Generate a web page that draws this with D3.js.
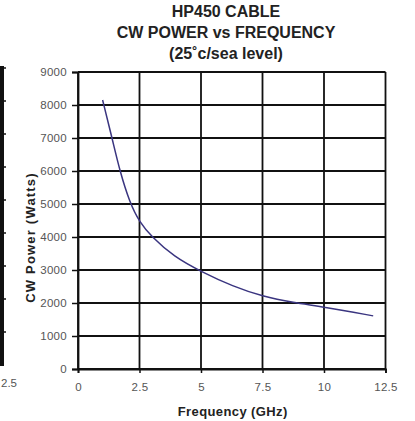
<!DOCTYPE html>
<html>
<head>
<meta charset="utf-8">
<script src="https://cdn.jsdelivr.net/npm/d3@7"></script>
<style>
  body { margin: 0; background: #fff; }
  text { font-family: "Liberation Sans", Arial, sans-serif; }
</style>
</head>
<body>
<div id="container"></div>
<script>
const titleLines = ["HP450 CABLE", "CW POWER vs FREQUENCY", "(25\u02DAc/sea level)"];
const freqGHz = [1, 1.4, 1.7, 2.1, 2.5, 3, 3.9, 5, 6.3, 7.5, 8.75, 10, 12];
const powerW = [8150, 6950, 6000, 5050, 4450, 4000, 3400, 2950, 2500, 2200, 2010, 1880, 1610];
const xTicks = [0, 2.5, 5, 7.5, 10, 12.5];
const yTicks = [0, 1000, 2000, 3000, 4000, 5000, 6000, 7000, 8000, 9000];
const xTitle = "Frequency (GHz)";
const yTitle = "CW Power (Watts)";
const edgeLabel = "2.5";

const width = 415, height = 421;
const margin = { top: 72, right: 30, bottom: 52, left: 78 };

let svg = d3.select("#container").append("svg")
    .attr("width", width)
    .attr("height", height);

let x = d3.scaleLinear()
    .domain([0, 12.5])
    .range([margin.left, width - margin.right + 0.5]);

let y = d3.scaleLinear()
    .domain([0, 9000])
    .range([height - margin.bottom, margin.top]);

// title
svg.append("g").selectAll("text")
    .data(titleLines)
    .enter()
    .append("text")
    .attr("x", 226)
    .attr("y", (d, i) => 17 + i * 21)
    .attr("text-anchor", "middle")
    .attr("font-size", 16)
    .attr("font-weight", "bold")
    .attr("fill", "#222")
    .text(d => d);

// grid
svg.append("g").selectAll("line.h")
    .data(yTicks)
    .enter()
    .append("line")
    .attr("x1", x(0)).attr("x2", x(12.5))
    .attr("y1", d => y(d)).attr("y2", d => y(d))
    .attr("stroke", "#111")
    .attr("stroke-width", 1.8);

svg.append("g").selectAll("line.v")
    .data(xTicks)
    .enter()
    .append("line")
    .attr("x1", d => x(d)).attr("x2", d => x(d))
    .attr("y1", y(0)).attr("y2", y(9000))
    .attr("stroke", "#111")
    .attr("stroke-width", 1.8);

// axes
let yAxis = svg.append("g")
    .attr("transform", `translate(${x(0)},0)`)
    .call(d3.axisLeft(y).tickValues(yTicks).tickSize(6).tickPadding(5).tickFormat(d3.format("d")));
let xAxis = svg.append("g")
    .attr("transform", `translate(0,${y(0)})`)
    .call(d3.axisBottom(x).tickValues(xTicks).tickSize(4).tickPadding(10).tickFormat(d => d));

[yAxis, xAxis].forEach(a => {
    a.select(".domain").attr("stroke", "#111").attr("stroke-width", 1.8);
    a.selectAll(".tick line").attr("stroke", "#111").attr("stroke-width", 1.5);
    a.selectAll(".tick text")
        .attr("fill", "#555")
        .style("font-family", "'Liberation Sans', Arial, sans-serif")
        .style("font-size", "11.5px")
        .style("letter-spacing", "0.3px");
});

// curve
let line = d3.line()
    .x((d, i) => x(freqGHz[i]))
    .y(d => y(d))
    .curve(d3.curveBasis);

svg.append("path")
    .datum(powerW)
    .attr("fill", "none")
    .attr("stroke", "#3a3580")
    .attr("stroke-width", 1.5)
    .attr("d", line);

// axis titles
svg.append("text")
    .attr("x", (x(0) + x(12.5)) / 2 + 1)
    .attr("y", 416)
    .attr("text-anchor", "middle")
    .attr("font-size", 13)
    .attr("font-weight", "bold")
    .attr("letter-spacing", 0.4)
    .attr("fill", "#222")
    .text(xTitle);

svg.append("text")
    .attr("transform", `translate(35,${(y(0) + y(9000)) / 2 + 17}) rotate(-90)`)
    .attr("text-anchor", "middle")
    .attr("font-size", 13)
    .attr("font-weight", "bold")
    .attr("letter-spacing", 1.2)
    .attr("fill", "#222")
    .text(yTitle);

// edge of the neighbouring chart, cut off at the left
let edge = svg.append("g");
edge.append("line")
    .attr("x1", 2).attr("x2", 2)
    .attr("y1", 66).attr("y2", y(0) - 3)
    .attr("stroke", "#111")
    .attr("stroke-width", 4);
edge.selectAll("line.t")
    .data(yTicks.slice(1))
    .enter()
    .append("line")
    .attr("x1", 2).attr("x2", 6)
    .attr("y1", d => y(d) - 4).attr("y2", d => y(d) - 4)
    .attr("stroke", "#111")
    .attr("stroke-width", 1.5);
edge.append("text")
    .attr("x", 1)
    .attr("y", 387)
    .attr("font-size", 11.5)
    .attr("fill", "#555")
    .text(edgeLabel);
</script>
</body>
</html>
